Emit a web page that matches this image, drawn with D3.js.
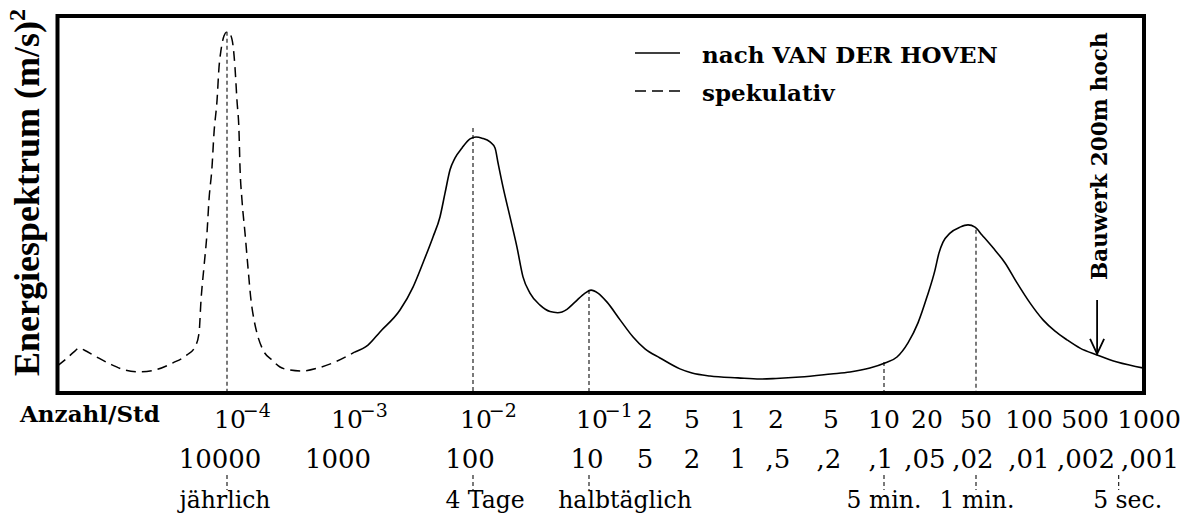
<!DOCTYPE html>
<html><head><meta charset="utf-8">
<script src="https://cdn.jsdelivr.net/npm/d3@7"></script>
<style>body{margin:0;background:#fff}</style>
</head><body>
<svg id="chart" width="1199" height="516"></svg>
<script>
// ---------- DATA ----------
// Frequency ticks (Anzahl pro Stunde)
const tickFreq = [1e-4, 1e-3, 1e-2, 1e-1, 0.2, 0.5, 1, 2, 5, 10, 20, 50, 100, 500, 1000];
// Top row labels (frequency), "base^exponent" for powers of ten
const freqLabels = ["10^−4", "10^−3", "10^−2", "10^−1", "2", "5", "1", "2", "5", "10", "20", "50", "100", "500", "1000"];
// Second row labels (period in hours)
const periodLabels = ["10000", "1000", "100", "10", "5", "2", "1", ",5", ",2", ",1", ",05", ",02", ",01", ",002", ",001"];

// Spectrum, [log10(frequency per hour), energy (arbitrary units 0..100)]
const spekulativ = [
  [-5.449, 7.2], [-5.376, 9.0], [-5.308, 10.9], [-5.265, 11.9], [-5.222, 11.4], [-5.128, 9.8],
  [-5.0, 7.7], [-4.872, 6.1], [-4.744, 5.6], [-4.615, 6.1], [-4.462, 8.0], [-4.342, 10.1],
  [-4.274, 12.2], [-4.239, 15.9], [-4.222, 24.7], [-4.197, 33.4], [-4.171, 42.4], [-4.154, 51.2],
  [-4.128, 60.0], [-4.111, 69.0], [-4.085, 77.7], [-4.068, 86.5], [-4.051, 91.0], [-4.026, 94.7],
  [-4.0, 95.8], [-3.974, 95.2], [-3.949, 92.3], [-3.932, 86.5], [-3.915, 77.7], [-3.897, 69.0],
  [-3.889, 60.0], [-3.872, 51.2], [-3.846, 42.4], [-3.821, 33.4], [-3.795, 24.7], [-3.769, 19.4],
  [-3.744, 15.9], [-3.692, 11.4], [-3.615, 8.75], [-3.547, 6.9], [-3.462, 6.1], [-3.359, 5.84],
  [-3.222, 6.63], [-3.077, 8.22], [-2.915, 10.9]
];
const vanDerHoven = [
  [-2.915, 10.9], [-2.814, 12.7], [-2.721, 16.2], [-2.566, 22.0], [-2.465, 28.1], [-2.388, 34.5],
  [-2.310, 41.4], [-2.256, 46.7], [-2.217, 53.0], [-2.178, 59.2], [-2.140, 62.3], [-2.085, 65.0],
  [-2.023, 67.4], [-1.974, 67.9], [-1.922, 67.6], [-1.853, 66.6], [-1.810, 65.0], [-1.784, 61.0],
  [-1.741, 54.6], [-1.681, 46.7], [-1.621, 38.7], [-1.569, 30.8], [-1.509, 26.5], [-1.422, 23.3],
  [-1.336, 21.6], [-1.270, 21.3], [-1.190, 22.2], [-1.121, 24.1], [-1.034, 26.5], [-0.989, 27.3],
  [-0.952, 26.5], [-0.903, 24.1], [-0.833, 19.4], [-0.763, 14.85], [-0.699, 11.7], [-0.572, 9.3],
  [-0.403, 6.4], [-0.301, 5.3], [-0.183, 4.5], [0.0, 4.0], [0.174, 3.7], [0.301, 3.85],
  [0.475, 4.24], [0.699, 5.04], [0.807, 5.57], [0.920, 6.63], [1.007, 7.96], [1.091, 9.55],
  [1.168, 13.3], [1.238, 18.6], [1.301, 25.5], [1.366, 32.6], [1.398, 37.1], [1.431, 40.0],
  [1.488, 42.4], [1.569, 44.0], [1.634, 44.6], [1.691, 44.0], [1.733, 41.9], [1.796, 38.5],
  [1.864, 34.5], [1.932, 29.2], [2.012, 23.9], [2.175, 19.4], [2.325, 16.4], [2.474, 14.1],
  [2.637, 11.9], [2.755, 10.1], [2.850, 8.2], [2.976, 6.6]
];

// Characteristic periods
const annotationNames = ["jährlich", "4 Tage", "halbtäglich", "5 min.", "1 min.", "5 sec."];
const annotationFreq = [1e-4, 1e-2, 1e-1, 10, 50, 720];
const guideTop = [95.8, 70.3, 27.3, 8.2, 43.3, null];

// Structure marker
const bauwerkLabel = "Bauwerk 200m hoch";
const bauwerkFreq = 570;
const bauwerkArrow = [24.7, 10.4];

const legendNames = ["nach VAN DER HOVEN", "spekulativ"];

// ---------- LAYOUT ----------
const tickX = [227, 344, 473, 589, 645, 692, 738, 776, 831, 884, 927, 976, 1029, 1085, 1149];
const periodDx = [-7, -6, -3, -2, 0, 0, 0, 2, -2, -3, -2, -3, 0, 1, 1];
const annotationDx = [-2, 12, 36, 0, 1, 9];
const box = {l: 57.5, r: 1144, t: 16, b: 393};
const serif = "'DejaVu Serif', serif";

const svg = d3.select("#chart");
const x = d3.scaleLinear().domain(tickFreq.map(Math.log10)).range(tickX);
const y = d3.scaleLinear().domain([0, 100]).range([box.b, box.t]);

// guides inside plot
const guides = annotationNames.map((n, i) => ({f: annotationFreq[i], top: guideTop[i]})).filter(d => d.top !== null);
svg.append("g").selectAll("line").data(guides).join("line")
  .attr("x1", d => x(Math.log10(d.f))).attr("x2", d => x(Math.log10(d.f)))
  .attr("y1", d => y(d.top)).attr("y2", box.b)
  .attr("stroke", "#222").attr("stroke-width", 1.2).attr("stroke-dasharray", "4,3");

// curves
const line = d3.line().x(d => x(d[0])).y(d => y(d[1])).curve(d3.curveMonotoneX);
svg.append("path").datum(spekulativ).attr("d", line)
  .attr("fill", "none").attr("stroke", "#000").attr("stroke-width", 1.5).attr("stroke-dasharray", "10,6");
svg.append("path").datum(vanDerHoven).attr("d", line)
  .attr("fill", "none").attr("stroke", "#000").attr("stroke-width", 1.6);

// box
svg.append("rect").attr("x", box.l).attr("y", box.t).attr("width", box.r - box.l).attr("height", box.b - box.t)
  .attr("fill", "none").attr("stroke", "#000").attr("stroke-width", 4);

// legend
const lg = svg.append("g").attr("font-family", serif).attr("font-weight", "bold").attr("font-size", 23);
legendNames.forEach((n, i) => {
  const ly = 53 + i * 38;
  lg.append("line").attr("x1", 635).attr("x2", 680).attr("y1", ly).attr("y2", ly)
    .attr("stroke", "#000").attr("stroke-width", 1.6).attr("stroke-dasharray", i ? "11,6" : null);
  lg.append("text").attr("x", 702).attr("y", ly + 9.5).text(n);
});

// Bauwerk arrow
const bx = x(Math.log10(bauwerkFreq));
svg.append("line").attr("x1", bx).attr("x2", bx).attr("y1", y(bauwerkArrow[0])).attr("y2", y(bauwerkArrow[1]))
  .attr("stroke", "#000").attr("stroke-width", 1.8);
svg.append("path")
  .attr("d", `M${bx - 7},${y(bauwerkArrow[1]) - 15}L${bx},${y(bauwerkArrow[1])}L${bx + 7},${y(bauwerkArrow[1]) - 15}`)
  .attr("fill", "none").attr("stroke", "#000").attr("stroke-width", 1.8);
svg.append("text").attr("transform", `translate(${bx + 10},${y(bauwerkArrow[0]) - 20}) rotate(-90)`)
  .attr("font-family", serif).attr("font-weight", "bold").attr("font-size", 21.5).text(bauwerkLabel);

// y label
const yl = svg.append("text").attr("transform", "translate(39,376) rotate(-90)")
  .attr("font-family", "'Liberation Serif', serif").attr("font-weight", "bold").attr("font-size", 36);
yl.append("tspan").text("Energiespektrum (m/s)");
yl.append("tspan").attr("font-size", 24).attr("dy", -14).text("2");

// axis rows
svg.append("text").attr("x", 20).attr("y", 422).attr("font-family", serif).attr("font-weight", "bold")
  .attr("font-size", 23).text("Anzahl/Std");

const row1 = svg.append("g").attr("font-family", serif).attr("font-size", 25);
freqLabels.forEach((lab, i) => {
  const px = x(Math.log10(tickFreq[i]));
  if (lab.includes("^")) {
    const [b, e] = lab.split("^");
    const t = row1.append("text").attr("x", px - 13).attr("y", 428);
    t.append("tspan").text(b);
    t.append("tspan").attr("font-size", 19).attr("dx", -3).attr("dy", -11).text(e);
  } else {
    row1.append("text").attr("x", px).attr("y", 428).attr("text-anchor", "middle").text(lab);
  }
});
svg.append("g").attr("font-family", serif).attr("font-size", 26).selectAll("text").data(periodLabels).join("text")
  .attr("x", (d, i) => x(Math.log10(tickFreq[i])) + periodDx[i]).attr("y", 468).attr("text-anchor", "middle").text(d => d);

// annotations below axis
const an = svg.append("g");
annotationNames.forEach((n, i) => {
  const px = x(Math.log10(annotationFreq[i]));
  an.append("line").attr("x1", px).attr("x2", px).attr("y1", 475).attr("y2", 490)
    .attr("stroke", "#222").attr("stroke-width", 1.2).attr("stroke-dasharray", "4,3");
  an.append("text").attr("x", px + annotationDx[i]).attr("y", 508).attr("text-anchor", "middle")
    .attr("font-family", serif).attr("font-size", 23.5).text(n);
});
</script>
</body></html>
